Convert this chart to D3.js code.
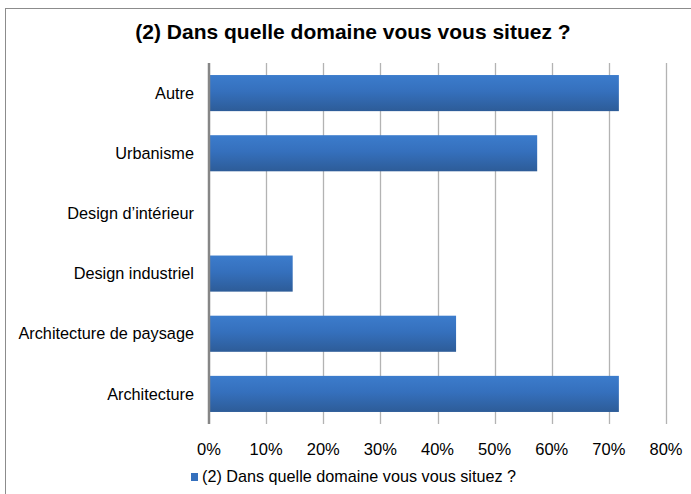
<!DOCTYPE html>
<html>
<head>
<meta charset="utf-8">
<script src="https://cdn.jsdelivr.net/npm/d3@7"></script>
<style>
  body { margin: 0; background: #fff; }
  text { font-family: "Liberation Sans", Arial, sans-serif; fill: #000; }
</style>
</head>
<body>
<div id="chart"></div>
<script>
var categories = ["Autre", "Urbanisme", "Design d\u2019int\u00e9rieur", "Design industriel", "Architecture de paysage", "Architecture"];
var values = [0.714, 0.571, 0, 0.143, 0.429, 0.714];
var ticks = [0, 0.1, 0.2, 0.3, 0.4, 0.5, 0.6, 0.7, 0.8];
var title = "(2) Dans quelle domaine vous vous situez ?";

var w = 691, h = 494,
    p = {"top": 63, "right": 25, "left": 209, "bot": 70};

var svg = d3.select("#chart").append("svg")
  .attr("width", w)
  .attr("height", h)

// outer chart frame
svg.append("rect")
  .attr("x", 5.5).attr("y", 8.5)
  .attr("width", w + 10).attr("height", h + 10)
  .attr("fill", "#fff")
  .attr("stroke", "#8c8c8c")
  .attr("stroke-width", 1)

var defs = svg.append("defs");
var grad = defs.append("linearGradient")
  .attr("id", "barGrad")
  .attr("x1", 0).attr("y1", 0).attr("x2", 0).attr("y2", 1);
grad.append("stop").attr("offset", "0%").attr("stop-color", "#3c7ccc");
grad.append("stop").attr("offset", "45%").attr("stop-color", "#3570bd");
grad.append("stop").attr("offset", "100%").attr("stop-color", "#2d5c98");

var x = d3.scaleLinear()
  .domain([0, 0.8])
  .range([p.left, w - p.right])

var y = d3.scaleBand()
  .domain(categories)
  .range([p.top, h - p.bot])
  .paddingInner(0.4)
  .paddingOuter(0.2)

// gridlines
svg.append("g")
  .selectAll("line")
  .data(ticks.slice(1))
  .enter()
    .append("line")
      .attr("x1", function(d){ return Math.round(x(d)) + 0.5 })
      .attr("x2", function(d){ return Math.round(x(d)) + 0.5 })
      .attr("y1", p.top)
      .attr("y2", h - p.bot)
      .attr("stroke", "#b3b3b3")
      .attr("stroke-width", 1.3)

// x tick labels
svg.append("g")
  .selectAll("text")
  .data(ticks)
  .enter()
    .append("text")
      .attr("x", function(d){ return x(d) })
      .attr("y", 455)
      .attr("text-anchor", "middle")
      .style("font-size", "16.5px")
      .text(function(d){ return d3.format(".0%")(d) })

// bars
svg.append("g")
  .selectAll("rect")
  .data(values)
  .enter()
    .append("rect")
      .attr("x", x(0) + 1)
      .attr("y", function(d, i){ return y(categories[i]) })
      .attr("width", function(d){ return d > 0 ? x(d) - x(0) + 1 : 0 })
      .attr("height", y.bandwidth())
      .attr("fill", "url(#barGrad)")

// value axis line
svg.append("line")
  .attr("x1", x(0)).attr("x2", x(0))
  .attr("y1", p.top).attr("y2", h - p.bot)
  .attr("stroke", "#868686")
  .attr("stroke-width", 2.5)

// category labels
svg.append("g")
  .selectAll("text")
  .data(categories)
  .enter()
    .append("text")
      .attr("x", 194)
      .attr("y", function(d){ return y(d) + y.bandwidth() / 2 })
      .attr("dy", "0.35em")
      .attr("text-anchor", "end")
      .style("font-size", "16.3px")
      .text(function(d){ return d })

// title
svg.append("text")
  .attr("x", 353)
  .attr("y", 39)
  .attr("text-anchor", "middle")
  .style("font-size", "21px")
  .style("font-weight", "bold")
  .text(title)

// legend
var legend = svg.append("g")
legend.append("rect")
  .attr("x", 191).attr("y", 473)
  .attr("width", 7).attr("height", 8)
  .attr("fill", "#3570bd")
legend.append("text")
  .attr("x", 202)
  .attr("y", 482)
  .style("font-size", "16.2px")
  .text(title)
</script>
</body>
</html>
